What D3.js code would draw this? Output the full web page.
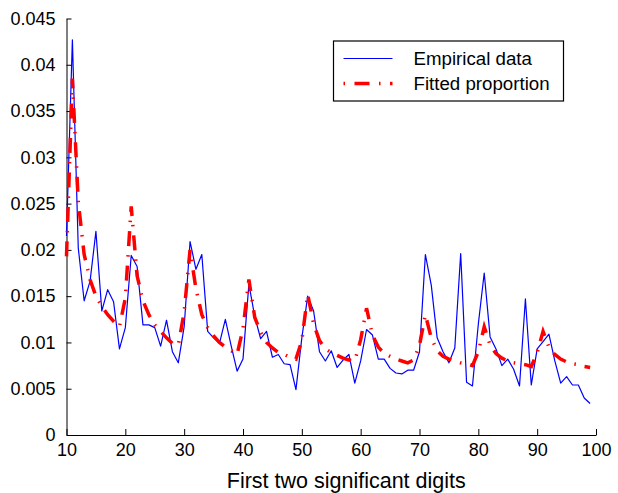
<!DOCTYPE html>
<html>
<head>
<meta charset="utf-8">
<script src="https://cdn.jsdelivr.net/npm/d3@7"></script>
<style>
  body { margin: 0; background: #fff; }
  svg { display: block; font-family: "Liberation Sans", Arial, Helvetica, sans-serif; }
  .axis text { font-size: 18px; fill: #000; }
  .axis path, .axis line { stroke: #000; stroke-width: 1; }
</style>
</head>
<body>
<div id="chart"></div>
<script>
// DATA
const digits = d3.range(10, 100);

const empirical = [
  0.0215, 0.0427, 0.0202, 0.0145, 0.0166, 0.0220, 0.0134, 0.0157, 0.0144, 0.0093,
  0.0116, 0.0194, 0.0182, 0.0119, 0.0119, 0.0116, 0.0096, 0.0124, 0.0090, 0.0078,
  0.0117, 0.0209, 0.0179, 0.0195, 0.0112, 0.0105, 0.0099, 0.0125, 0.0096, 0.0069,
  0.0082, 0.0163, 0.0128, 0.0104, 0.0112, 0.0084, 0.0087, 0.0077, 0.0076, 0.0049,
  0.0105, 0.0150, 0.0134, 0.0090, 0.0080, 0.0091, 0.0073, 0.0081, 0.0087, 0.0056,
  0.0080, 0.0114, 0.0108, 0.0082, 0.0082, 0.0072, 0.0067, 0.0066, 0.0070, 0.0070,
  0.0090, 0.0195, 0.0162, 0.0105, 0.0090, 0.0078, 0.0094, 0.0196, 0.0057, 0.0053,
  0.0120, 0.0175, 0.0106, 0.0093, 0.0075, 0.0082, 0.0071, 0.0053, 0.0147, 0.0054,
  0.0093, 0.0101, 0.0109, 0.0080, 0.0056, 0.0063, 0.0054, 0.0054, 0.0040, 0.0034
];

const fitted = [
  0.0193, 0.0385, 0.0252, 0.0195, 0.0168, 0.0150, 0.0139, 0.0130, 0.0123, 0.0117,
  0.0148, 0.0247, 0.0172, 0.0145, 0.0130, 0.0119, 0.0112, 0.0105, 0.0099, 0.0097,
  0.0133, 0.0200, 0.0158, 0.0130, 0.0116, 0.0107, 0.0100, 0.0095, 0.0091, 0.0087,
  0.0115, 0.0168, 0.0127, 0.0111, 0.0100, 0.0094, 0.0089, 0.0087, 0.0084, 0.0082,
  0.0102, 0.0152, 0.0120, 0.0102, 0.0093, 0.0089, 0.0086, 0.0083, 0.0081, 0.0080,
  0.0103, 0.0137, 0.0108, 0.0095, 0.0088, 0.0085, 0.0082, 0.0080, 0.0078, 0.0081,
  0.0097, 0.0130, 0.0105, 0.0091, 0.0085, 0.0082, 0.0080, 0.0078, 0.0077, 0.0075,
  0.0090, 0.0117, 0.0097, 0.0088, 0.0083, 0.0080, 0.0078, 0.0077, 0.0076, 0.0074,
  0.0089, 0.0112, 0.0095, 0.0087, 0.0082, 0.0079, 0.0077, 0.0076, 0.0074, 0.0073
];

const xTicks = [10, 20, 30, 40, 50, 60, 70, 80, 90, 100];
const yTicks = [0, 0.005, 0.01, 0.015, 0.02, 0.025, 0.03, 0.035, 0.04, 0.045];
const seriesNames = ["Empirical data", "Fitted proportion"];

// MARGIN CONVENTIONS
const margin = { top: 18.5, right: 22, bottom: 58, left: 66.5 };
const outerWidth = 618;
const outerHeight = 493;
const width = outerWidth - margin.left - margin.right;
const height = outerHeight - margin.top - margin.bottom;

const svg = d3.select("#chart").append("svg")
  .attr("width", outerWidth)
  .attr("height", outerHeight);

const g = svg.append("g")
  .attr("transform", `translate(${margin.left}, ${margin.top})`);

// scales
const x = d3.scaleLinear().domain([10, 100]).range([0, width]);
const y = d3.scaleLinear().domain([0, 0.045]).range([height, 0]);

// axes (ticks point inward)
g.append("g")
  .attr("class", "axis")
  .attr("transform", `translate(0, ${height})`)
  .call(d3.axisBottom(x).tickValues(xTicks).tickSize(-6).tickSizeOuter(0).tickPadding(8));

g.append("g")
  .attr("class", "axis")
  .call(d3.axisLeft(y).tickValues(yTicks).tickSize(-5).tickSizeOuter(0).tickPadding(11)
    .tickFormat(d => String(+d.toFixed(3))));

// lines
const rows = digits.map((d, i) => ({ d, emp: empirical[i], fit: fitted[i] }));

const empLine = d3.line().x(r => x(r.d)).y(r => y(r.emp));
const fitLine = d3.line().x(r => x(r.d)).y(r => y(r.fit));

g.append("path")
  .attr("d", empLine(rows))
  .attr("fill", "none")
  .attr("stroke", "#0000ff")
  .attr("stroke-width", 1.2)
  .attr("stroke-linejoin", "round");

g.append("path")
  .attr("d", fitLine(rows))
  .attr("fill", "none")
  .attr("stroke", "#ff0000")
  .attr("stroke-width", 3.5)
  .attr("stroke-dasharray", "15,9,1.5,9");

// x label
g.append("text")
  .attr("x", width / 2 + 15)
  .attr("y", height + 53)
  .attr("text-anchor", "middle")
  .style("font-size", "21.5px")
  .text("First two significant digits");

// legend
const legend = svg.append("g").attr("transform", "translate(333.5, 41)");
legend.append("rect")
  .attr("width", 230)
  .attr("height", 60)
  .attr("fill", "#fff")
  .attr("stroke", "#000")
  .attr("stroke-width", 1.2);

legend.append("line")
  .attr("x1", 10).attr("x2", 59)
  .attr("y1", 17.5).attr("y2", 17.5)
  .attr("stroke", "#0000ff")
  .attr("stroke-width", 1.2);

legend.append("line")
  .attr("x1", 10).attr("x2", 59)
  .attr("y1", 42.5).attr("y2", 42.5)
  .attr("stroke", "#ff0000")
  .attr("stroke-width", 3.5)
  .attr("stroke-dasharray", "1.5,9.5,15,9.5");

legend.selectAll("text.lab")
  .data(seriesNames)
  .join("text")
  .attr("class", "lab")
  .attr("x", 80)
  .attr("y", (d, i) => 24 + i * 25)
  .style("font-size", "18.7px")
  .text(d => d);
</script>
</body>
</html>
